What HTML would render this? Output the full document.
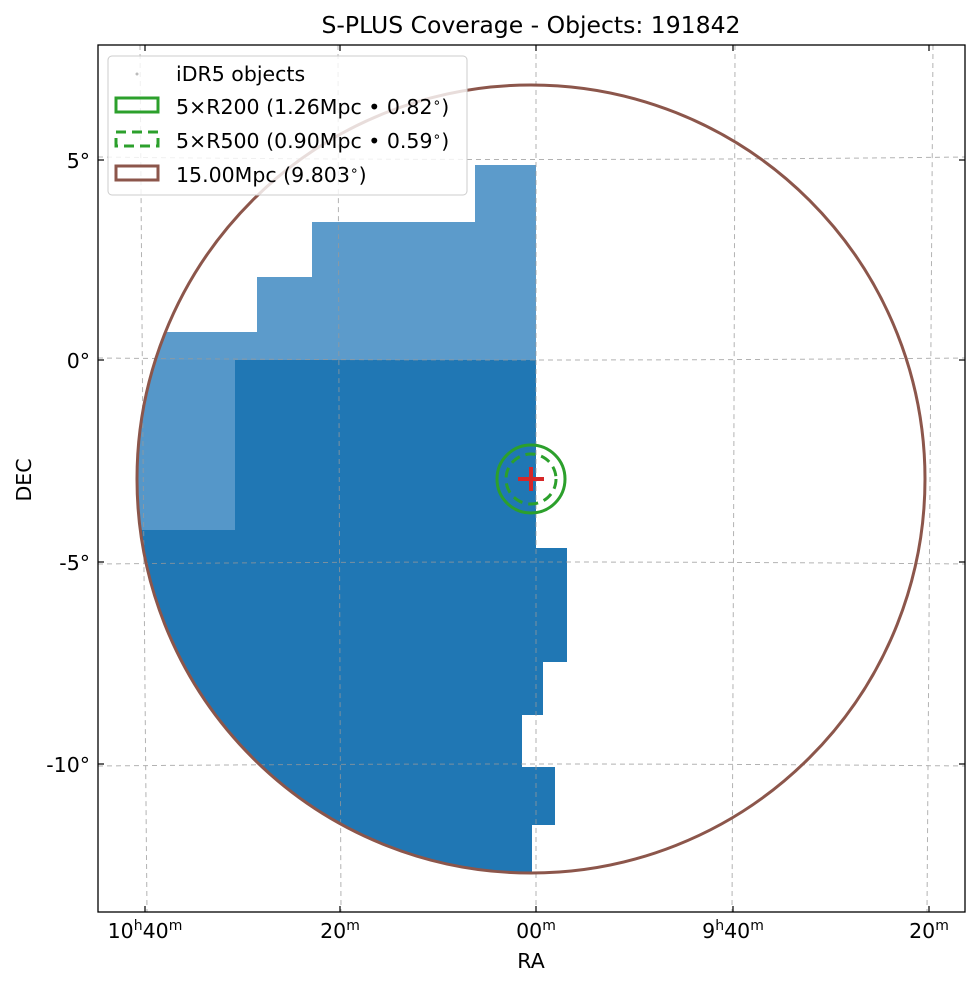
<!DOCTYPE html>
<html><head><meta charset="utf-8"><style>
html,body{margin:0;padding:0;background:#fff;}
svg{display:block;font-family:"DejaVu Sans","Liberation Sans",sans-serif;}
</style></head><body>
<svg width="979" height="986" viewBox="0 0 979 986" xmlns="http://www.w3.org/2000/svg">
<defs>
<clipPath id="c"><circle cx="531" cy="479" r="394"/></clipPath>
<clipPath id="ax"><rect x="98" y="45" width="867" height="867"/></clipPath>
</defs>
<text x="531" y="33" font-size="23.5" text-anchor="middle" fill="#000">S-PLUS Coverage - Objects: 191842</text>
<g clip-path="url(#ax)">
<g clip-path="url(#c)">
<path d="M100,332 L257,332 L257,277 L312,277 L312,222 L475,222 L475,165 L536,165 L536,360 L100,360 Z" fill="#5c9bcb"/>
<path d="M100,360 L235,360 L235,530 L100,530 Z" fill="#5597c9"/>
<path d="M235,360 L536,360 L536,548 L567,548 L567,662 L543,662 L543,715 L522,715 L522,767 L555,767 L555,825 L532,825 L532,900 L100,900 L100,530 L235,530 Z" fill="#2077b4"/>
</g>
<g fill="none" stroke="#999" stroke-width="1" stroke-dasharray="5,4" opacity="0.75">
<path d="M140,45 Q143,480 147,912"/>
<path d="M338,45 Q339,480 341,912"/>
<line x1="536" y1="45" x2="536" y2="912"/>
<path d="M735,45 Q734,480 732,912"/>
<path d="M933,45 Q930,480 927,912"/>
<path d="M98,157 Q531,162 965,157"/>
<path d="M98,358 Q531,362 965,358"/>
<path d="M98,564 Q531,560 965,564"/>
<path d="M98,766 Q531,762 965,766"/>
</g>
<circle cx="531" cy="479" r="394" fill="none" stroke="#8c564b" stroke-width="3"/>
<circle cx="531" cy="479" r="34" fill="none" stroke="#2ca02c" stroke-width="3"/>
<circle cx="531" cy="479" r="25" fill="none" stroke="#2ca02c" stroke-width="3" stroke-dasharray="10,6"/>
<path d="M518,479 H544 M531,467 V491" stroke="#d62728" stroke-width="4"/>
</g>
<rect x="98" y="45" width="867" height="867" fill="none" stroke="#000" stroke-width="1.3"/>
<g stroke="#000" stroke-width="1.2">
<line x1="98" y1="160" x2="104" y2="160"/><line x1="98" y1="360" x2="104" y2="360"/><line x1="98" y1="562" x2="104" y2="562"/><line x1="98" y1="764" x2="104" y2="764"/>
<line x1="965" y1="160" x2="959" y2="160"/><line x1="965" y1="360" x2="959" y2="360"/><line x1="965" y1="562" x2="959" y2="562"/><line x1="965" y1="764" x2="959" y2="764"/>
<line x1="145" y1="912" x2="145" y2="906"/><line x1="340" y1="912" x2="340" y2="906"/><line x1="536" y1="912" x2="536" y2="906"/><line x1="733" y1="912" x2="733" y2="906"/><line x1="929" y1="912" x2="929" y2="906"/>
<line x1="145" y1="45" x2="145" y2="51"/><line x1="340" y1="45" x2="340" y2="51"/><line x1="536" y1="45" x2="536" y2="51"/><line x1="733" y1="45" x2="733" y2="51"/><line x1="929" y1="45" x2="929" y2="51"/>
</g>
<g font-size="20.5" fill="#000" text-anchor="end">
<text x="90" y="168">5°</text><text x="90" y="368">0°</text><text x="90" y="570">-5°</text><text x="90" y="772">-10°</text>
</g>
<g font-size="20.5" fill="#000" text-anchor="middle">
<text x="145" y="938">10<tspan font-size="14" dy="-8">h</tspan><tspan dy="8">40</tspan><tspan font-size="14" dy="-8">m</tspan></text>
<text x="340" y="938">20<tspan font-size="14" dy="-8">m</tspan></text>
<text x="536" y="938">00<tspan font-size="14" dy="-8">m</tspan></text>
<text x="733" y="938">9<tspan font-size="14" dy="-8">h</tspan><tspan dy="8">40</tspan><tspan font-size="14" dy="-8">m</tspan></text>
<text x="929" y="938">20<tspan font-size="14" dy="-8">m</tspan></text>
<text x="531" y="968">RA</text>
</g>
<text x="31" y="480" font-size="20.5" text-anchor="middle" transform="rotate(-90 31 480)">DEC</text>
<rect x="108" y="56" width="359" height="139" rx="4" fill="#fff" fill-opacity="0.8" stroke="#ccc"/>
<circle cx="137" cy="74" r="1.5" fill="#bbb"/>
<rect x="116" y="98" width="42" height="14" fill="none" stroke="#2ca02c" stroke-width="3"/>
<rect x="116" y="132" width="42" height="14" fill="none" stroke="#2ca02c" stroke-width="3" stroke-dasharray="10,6"/>
<rect x="116" y="166" width="42" height="14" fill="none" stroke="#8c564b" stroke-width="3"/>
<g font-size="20.5" fill="#000">
<text x="176" y="81">iDR5 objects</text>
<text x="176" y="114">5×R200 (1.26Mpc • 0.82<tspan font-size="14" dy="-7">∘</tspan><tspan dy="7">)</tspan></text>
<text x="176" y="148">5×R500 (0.90Mpc • 0.59<tspan font-size="14" dy="-7">∘</tspan><tspan dy="7">)</tspan></text>
<text x="176" y="182">15.00Mpc (9.803<tspan font-size="14" dy="-7">∘</tspan><tspan dy="7">)</tspan></text>
</g>
</svg>
</body></html>
